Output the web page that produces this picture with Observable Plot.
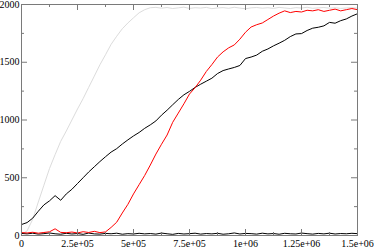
<!DOCTYPE html>
<html><head><meta charset="utf-8">
<script src="https://cdn.jsdelivr.net/npm/d3@7"></script>
<script src="https://cdn.jsdelivr.net/npm/@observablehq/plot@0.6"></script>
<style>html,body{margin:0;padding:0;background:#fff} svg{display:block}</style>
</head><body><div id="chart"></div>
<script>
const xs = [0,25000,50000,75000,100000,125000,150000,175000,200000,225000,250000,275000,300000,325000,350000,375000,400000,425000,450000,475000,500000,525000,550000,575000,600000,625000,650000,675000,700000,725000,750000,775000,800000,825000,850000,875000,900000,925000,950000,975000,1000000,1025000,1050000,1075000,1100000,1125000,1150000,1175000,1200000,1225000,1250000,1275000,1300000,1325000,1350000,1375000,1400000,1425000,1450000,1475000,1500000];
const grayVals = [10,40,140,290,435,580,700,815,905,1000,1095,1185,1283,1380,1478,1565,1655,1725,1790,1840,1885,1928,1955,1972,1975,1968,1974,1965,1971,1977,1966,1972,1969,1975,1964,1970,1973,1967,1976,1969,1963,1971,1974,1968,1972,1966,1975,1970,1965,1973,1969,1976,1967,1971,1974,1968,1972,1966,1970,1973,1969];
const blackVals = [95,112,150,210,265,300,345,305,360,400,450,500,550,595,640,682,722,752,792,828,862,892,928,958,992,1042,1085,1132,1178,1218,1248,1282,1310,1336,1362,1402,1428,1442,1455,1472,1532,1545,1562,1595,1615,1642,1665,1690,1722,1745,1748,1775,1795,1803,1815,1845,1838,1860,1875,1900,1920];
const redVals = [25,22,28,20,26,32,58,27,24,30,22,33,26,36,25,31,70,115,195,270,360,440,520,610,705,790,870,980,1060,1140,1225,1280,1345,1420,1480,1545,1590,1625,1650,1700,1760,1805,1825,1840,1870,1900,1925,1945,1930,1940,1935,1950,1945,1955,1940,1950,1960,1945,1955,1965,1955];
const baseVals = [18,14,20,12,16,22,15,11,19,13,17,10,21,14,12,18,15,20,11,16,13,19,14,17,12,21,15,10,18,13,16,20,12,17,14,19,11,15,22,13,18,16,12,20,14,17,11,19,15,13,21,16,12,18,14,20,13,17,15,19,16];

const xMajor = [0,250000,500000,750000,1000000,1250000,1500000];
const xLabels = ["0","2.5e+05","5e+05","7.5e+05","1e+06","1.25e+06","1.5e+06"];
const xMinor = [125000,375000,625000,875000,1125000,1375000];
const yMajor = [0,500,1000,1500,2000];
const yLabels = ["0","500","1000","1500","2000"];
const yMinor = [250,750,1250,1750];

const rows = xs.map((x,i)=>({x, gray:grayVals[i], black:blackVals[i], red:redVals[i], base:baseVals[i]}));

const W=374,H=248,mL=21,mR=17,mT=4,mB=13;
const iW=W-mL-mR, iH=H-mT-mB;
const tickCol="#7a7a7a";
const chart = Plot.plot({
  width:W,height:H,marginLeft:mL,marginRight:mR,marginTop:mT,marginBottom:mB,
  style:{fontFamily:"'Liberation Serif','Times New Roman',serif",fontSize:"10px",background:"#fff",overflow:"visible"},
  x:{domain:[0,1500000]},
  y:{domain:[0,2000]},
  marks:[
    Plot.line(rows,{x:"x",y:"gray",stroke:"#dcdcdc",strokeWidth:1}),
    Plot.line(rows,{x:"x",y:"base",stroke:"#000",strokeWidth:1}),
    Plot.line(rows,{x:"x",y:"black",stroke:"#000",strokeWidth:1}),
    Plot.line(rows,{x:"x",y:"red",stroke:"#ff0000",strokeWidth:1}),
    Plot.frame({stroke:tickCol}),
    Plot.ruleX(xMajor,{stroke:tickCol,insetTop:iH-6}),
    Plot.ruleX(xMajor,{stroke:tickCol,insetBottom:iH-6}),
    Plot.ruleX(xMinor,{stroke:tickCol,insetTop:iH-3}),
    Plot.ruleX(xMinor,{stroke:tickCol,insetBottom:iH-3}),
    Plot.ruleY(yMajor,{stroke:tickCol,insetRight:iW-6}),
    Plot.ruleY(yMajor,{stroke:tickCol,insetLeft:iW-6}),
    Plot.ruleY(yMinor,{stroke:tickCol,insetRight:iW-3}),
    Plot.ruleY(yMinor,{stroke:tickCol,insetLeft:iW-3}),
    Plot.axisX({ticks:xMajor,tickSize:0,tickPadding:4,tickFormat:d=>xLabels[xMajor.indexOf(d)],label:null}),
    Plot.axisY({ticks:yMajor,tickSize:0,tickPadding:2,tickFormat:d=>yLabels[yMajor.indexOf(d)],label:null})
  ]
});
document.getElementById("chart").append(chart);
</script>
</body></html>
